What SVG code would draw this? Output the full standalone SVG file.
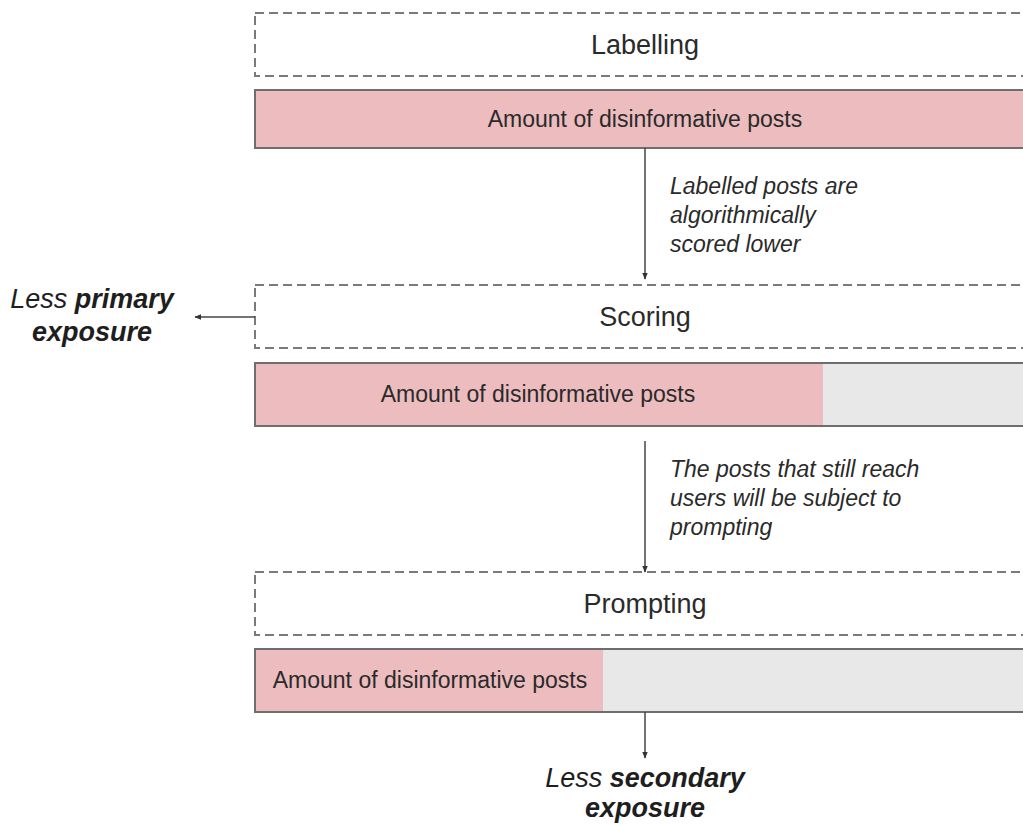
<svg xmlns="http://www.w3.org/2000/svg" width="1023" height="825" viewBox="0 0 1023 825">
<style>
.stage{fill:#ffffff;stroke:#7a7a7a;stroke-width:2;stroke-dasharray:9,5}
.bar{stroke:#6e6e6e;stroke-width:2}
.pink{fill:#ecbcbf}
.grey{fill:#e8e8e8}
.t{font-family:"Liberation Sans",Arial,sans-serif;fill:#2a2a2a;text-anchor:middle}
.h{font-size:27px}
.b{font-size:23px}
.note{font-family:"Liberation Sans",Arial,sans-serif;font-style:italic;font-size:23px;fill:#2a2a2a}
.out{font-family:"Liberation Sans",Arial,sans-serif;font-style:italic;font-size:27px;fill:#1e1e1e;text-anchor:middle}
.conn{stroke:#444;stroke-width:1.5;fill:none}
</style>
<defs>
<marker id="ah" viewBox="0 0 10 10" refX="9" refY="5" markerWidth="7" markerHeight="7" orient="auto" markerUnits="userSpaceOnUse">
<path d="M0,1 L10,5 L0,9 z" fill="#333"/>
</marker>
</defs>
<rect width="1023" height="825" fill="#ffffff"/>
<g id="labelling">
<rect class="stage" x="255" y="13" width="790" height="63"/>
<text class="t h" x="645" y="54">Labelling</text>
</g>
<g id="bar1">
<rect class="bar pink" x="255" y="90" width="790" height="58"/>
<text class="t b" x="645" y="127">Amount of disinformative posts</text>
</g>
<g id="scoring">
<rect class="stage" x="255" y="285" width="790" height="63"/>
<text class="t h" x="645" y="326">Scoring</text>
</g>
<g id="bar2">
<rect class="grey" x="255" y="363" width="790" height="63"/>
<rect class="pink" x="255" y="363" width="568" height="63"/>
<rect class="bar" fill="none" x="255" y="363" width="790" height="63"/>
<text class="t b" x="538" y="402">Amount of disinformative posts</text>
</g>
<g id="prompting">
<rect class="stage" x="255" y="572" width="790" height="63"/>
<text class="t h" x="645" y="613">Prompting</text>
</g>
<g id="bar3">
<rect class="grey" x="255" y="649" width="790" height="63"/>
<rect class="pink" x="255" y="649" width="348" height="63"/>
<rect class="bar" fill="none" x="255" y="649" width="790" height="63"/>
<text class="t b" x="430" y="688">Amount of disinformative posts</text>
</g>
<g id="note1">
<text class="note" x="670" y="194">Labelled posts are</text>
<text class="note" x="670" y="223">algorithmically</text>
<text class="note" x="670" y="252">scored lower</text>
</g>
<g id="note2">
<text class="note" x="670" y="477">The posts that still reach</text>
<text class="note" x="670" y="506">users will be subject to</text>
<text class="note" x="670" y="535">prompting</text>
</g>
<g id="primary">
<text class="out" x="92" y="308">Less <tspan font-weight="bold">primary</tspan></text>
<text class="out" x="92" y="341" font-weight="bold">exposure</text>
</g>
<g id="secondary">
<text class="out" x="645" y="787">Less <tspan font-weight="bold">secondary</tspan></text>
<text class="out" x="645" y="817" font-weight="bold">exposure</text>
</g>
<g id="connectors">
<line class="conn" x1="645" y1="148" x2="645" y2="279" marker-end="url(#ah)"/>
<line class="conn" x1="645" y1="441" x2="645" y2="572" marker-end="url(#ah)"/>
<line class="conn" x1="645" y1="712" x2="645" y2="758" marker-end="url(#ah)"/>
<line class="conn" x1="255" y1="317" x2="195" y2="317" marker-end="url(#ah)"/>
</g>
</svg>
